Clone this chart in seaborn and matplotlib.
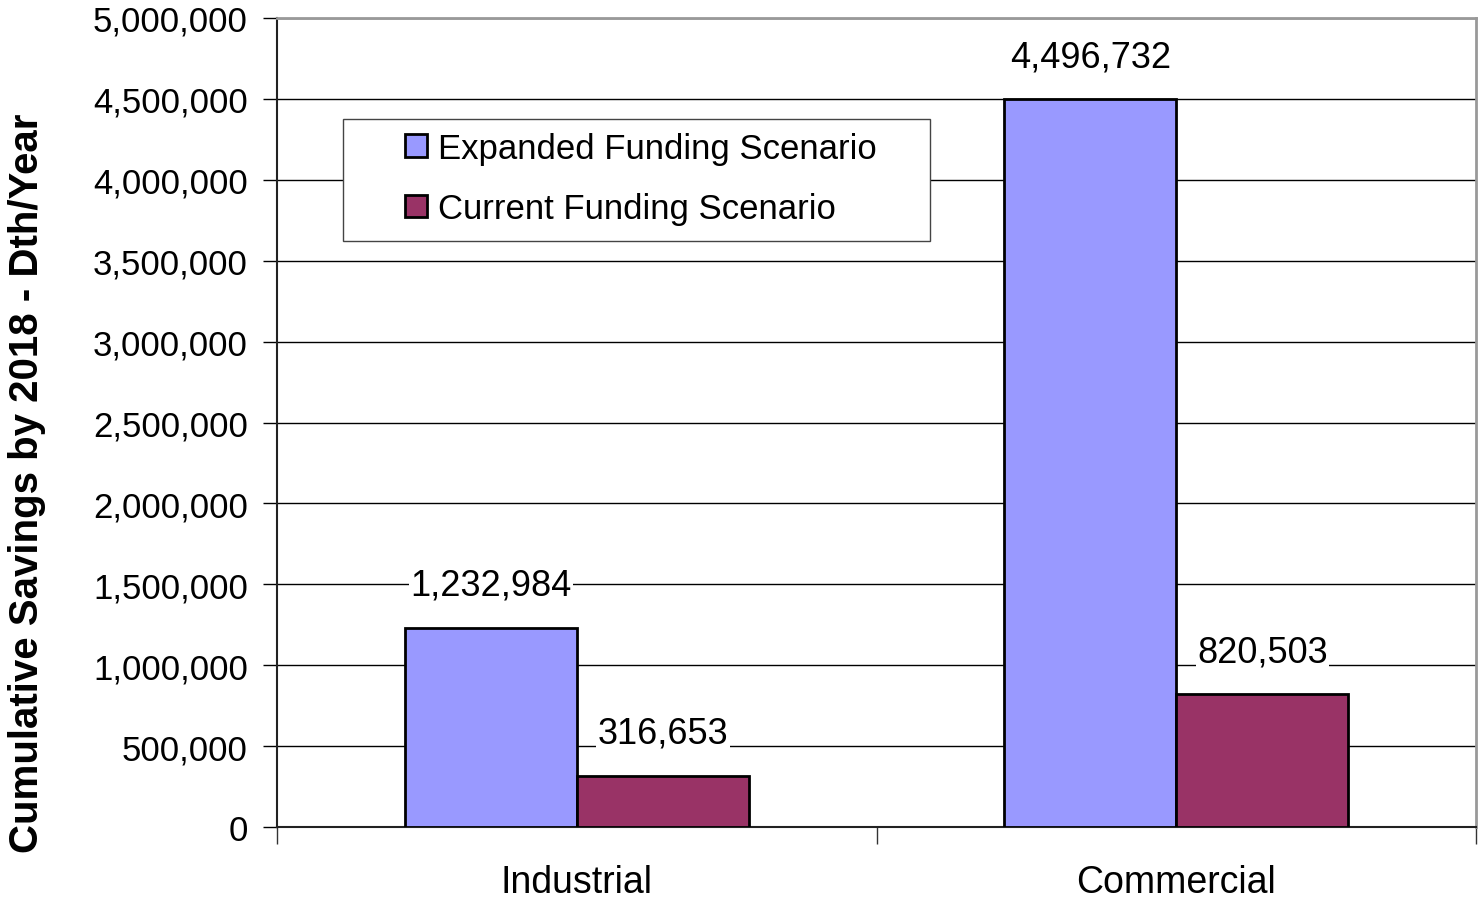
import matplotlib
matplotlib.use("Agg")
import matplotlib.pyplot as plt
from matplotlib.patches import Rectangle
from matplotlib.ticker import FuncFormatter, FixedLocator, NullFormatter
import seaborn as sns
import pandas as pd

# Chart data
sectors = ["Industrial", "Commercial"]
scenarios = ["Expanded Funding Scenario", "Current Funding Scenario"]
expanded_savings = [1232984, 4496732]
current_savings = [316653, 820503]
y_ticks = [0, 500000, 1000000, 1500000, 2000000, 2500000,
           3000000, 3500000, 4000000, 4500000, 5000000]

df = pd.DataFrame({
    "Sector": sectors * 2,
    "Scenario": [scenarios[0]] * 2 + [scenarios[1]] * 2,
    "Savings": expanded_savings + current_savings,
})

sns.set_theme(style="white")
plt.rcParams["font.family"] = ["Liberation Sans", "DejaVu Sans"]

W, H = 1479, 904
fig = plt.figure(figsize=(W / 100, H / 100), dpi=100)
ax = fig.add_axes([277 / W, 1 - 828 / H, (1476 - 277) / W, (828 - 19) / H])

palette = {scenarios[0]: "#9999FF", scenarios[1]: "#993366"}
sns.barplot(data=df, x="Sector", y="Savings", hue="Scenario", order=sectors,
            hue_order=scenarios, palette=palette, width=0.574, dodge=True,
            edgecolor="black", linewidth=2, saturation=1, ax=ax, zorder=3,
            legend=True)

ax.set_xlim(-0.5, 1.5)
ax.set_ylim(0, 5000000)

# Horizontal gridlines
ax.yaxis.set_major_locator(FixedLocator(y_ticks))
ax.grid(axis="y", color="black", linewidth=1, zorder=0)
ax.grid(axis="x", visible=False)
ax.set_axisbelow(True)

ax.yaxis.set_major_formatter(FuncFormatter(lambda v, p: f"{int(v):,}"))
ax.tick_params(axis="y", which="major", direction="out", length=10, width=1,
               color="black", labelsize=25, pad=11, left=True,
               labelcolor="black")

# Category labels centred, ticks at category boundaries
ax.set_xticks([0, 1])
ax.set_xticklabels(sectors)
ax.tick_params(axis="x", which="major", length=0, labelsize=27, pad=27,
               labelcolor="black")
ax.set_xticks([-0.5, 0.5, 1.5], minor=True)
ax.xaxis.set_minor_formatter(NullFormatter())
ax.tick_params(axis="x", which="minor", direction="out", length=12, width=1,
               color="#333333", bottom=True)

for side in ["left", "bottom"]:
    ax.spines[side].set_color("#222222")
    ax.spines[side].set_linewidth(1.5)
for side in ["top", "right"]:
    ax.spines[side].set_visible(True)
    ax.spines[side].set_color("#999999")
    ax.spines[side].set_linewidth(2)

ax.set_xlabel("")
ax.set_ylabel("Cumulative Savings by 2018 - Dth/Year", fontsize=29,
              fontweight="bold", color="black")
ax.yaxis.set_label_coords(-0.193, 0.426)

# Value labels above each bar
for container in ax.containers:
    for bar in container:
        h = bar.get_height()
        ax.annotate(f"{int(round(h)):,}",
                    xy=(bar.get_x() + bar.get_width() / 2, h),
                    xytext=(0, 30.5), textcoords="offset points",
                    ha="center", va="center", fontsize=26, zorder=5,
                    color="black",
                    bbox=dict(facecolor="white", edgecolor="none", pad=1))

# Legend with a separate rectangular frame
frame = Rectangle((343 / W, 1 - 242 / H), (930 - 343) / W, (242 - 120) / H,
                  transform=fig.transFigure, facecolor="white",
                  edgecolor="#444444", linewidth=1, zorder=4)
ax.add_patch(frame)
leg = ax.legend(loc="upper left",
                bbox_to_anchor=(405 / W, 1 - 133 / H),
                bbox_transform=fig.transFigure,
                frameon=False, fontsize=25, handlelength=0.63,
                handleheight=0.63, handletextpad=0.32, labelspacing=0.78,
                borderpad=0, borderaxespad=0)
leg.set_zorder(6)
for h in leg.legend_handles:
    h.set_edgecolor("black")
    h.set_linewidth(2)
for t in leg.get_texts():
    t.set_color("black")

fig.savefig("out.png", dpi=100)
